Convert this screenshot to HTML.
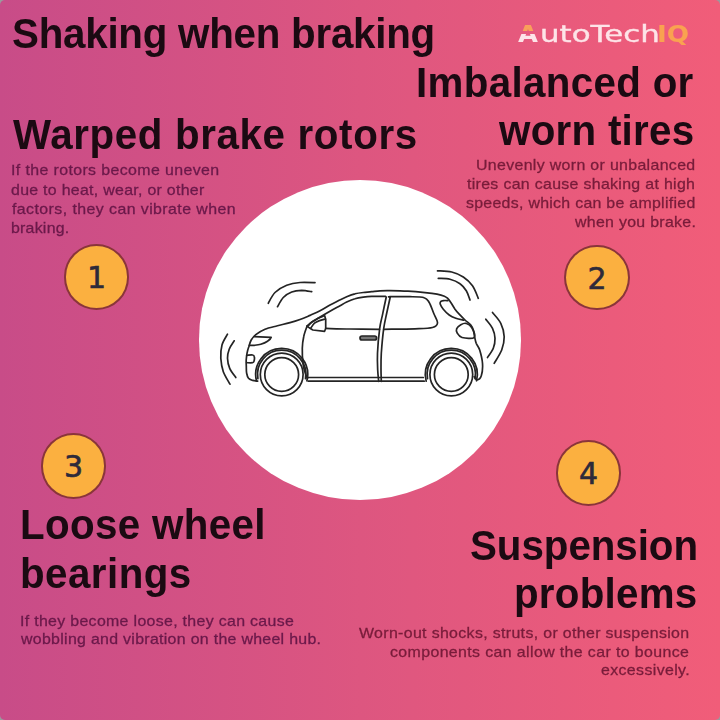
<!DOCTYPE html>
<html lang="en">
<head>
<meta charset="utf-8">
<title>Shaking when braking</title>
<style>
html,body{margin:0;padding:0;}
body{width:720px;height:720px;overflow:hidden;background:#9a9a9e;font-family:"Liberation Sans",sans-serif;}
.card{position:absolute;left:0;top:0;width:720px;height:720px;border-radius:5px;overflow:hidden;
  background:linear-gradient(90deg,#c84c88 0%,#dd5680 50%,#f15d79 100%);}
.disc{position:absolute;left:198.8px;top:180.4px;width:322.4px;height:319.2px;border-radius:50%;background:#fff;}
.car{position:absolute;left:0;top:0;}
h1,h2,p,section{margin:0;padding:0;font-size:inherit;font-weight:inherit;}
.t{position:absolute;white-space:nowrap;line-height:1;transform-origin:0 0;}
.h{font-weight:bold;font-size:42px;color:#1b0a12;}
.b{font-size:15px;color:#6a194a;-webkit-text-stroke:0.3px #6a194a;}
.b.r{color:#781c3a;-webkit-text-stroke:0.3px #781c3a;}
.num{position:absolute;width:65.4px;height:65.4px;border-radius:50%;background:#fbb040;border:2px solid rgba(118,32,58,0.85);box-sizing:border-box;
  font-family:"DejaVu Sans","Liberation Sans",sans-serif;font-size:30px;color:#2d2a3a;text-align:center;line-height:64.6px;-webkit-text-stroke:0.6px #2d2a3a;}
.logo{position:absolute;left:0;top:0;font-family:"DejaVu Sans","Liberation Sans",sans-serif;font-size:23px;line-height:1;color:#fde4e8;}
.logo span{position:absolute;top:22.5px;white-space:nowrap;transform-origin:0 0;}
.logo .la{left:518.3px;font-weight:bold;transform:scaleX(1.122);color:transparent;
  background:linear-gradient(180deg,#f9a05a 0,#f9a05a 8px,rgba(0,0,0,0) 8px,rgba(0,0,0,0) 11px,#fde4e8 11px,#fde4e8 23px);
  -webkit-background-clip:text;background-clip:text;}
.logo .lt{left:539.9px;transform:scaleX(1.3436);-webkit-text-stroke:0.35px #fde4e8;}
.logo .lq{left:657.4px;font-weight:bold;color:#f9a250;transform:scaleX(1.142);}
</style>
</head>
<body>
<div class="card">
  <div class="disc"></div>
<svg class="car" width="720" height="720" viewBox="0 0 720 720" fill="none" stroke="#242424" stroke-width="1.7" stroke-linecap="round" stroke-linejoin="round">
<path d="M257.7,381.2C256.9,381.1 254.2,380.9 252.7,380.4C251.2,379.9 249.5,379.5 248.5,378.3C247.5,377.1 247.0,375.1 246.6,373.0C246.2,370.9 246.4,368.2 246.3,366.0C246.2,363.8 246.1,362.1 246.2,360.0C246.4,357.9 246.6,355.5 247.0,353.3C247.4,351.1 248.0,348.9 248.8,346.7C249.5,344.5 250.1,342.0 251.2,340.0C252.4,338.0 253.5,336.4 255.8,334.6C258.1,332.8 261.4,330.7 265.0,329.2C268.6,327.7 273.3,326.9 277.5,325.8C281.7,324.7 286.2,323.7 290.0,322.6C293.8,321.6 296.7,320.7 300.0,319.5C303.3,318.3 306.7,316.8 310.0,315.4C313.3,313.9 316.7,312.5 320.0,310.8C323.3,309.1 326.9,306.7 330.0,305.0C333.1,303.3 335.5,302.2 338.3,300.8C341.1,299.4 343.9,297.9 346.7,296.7C349.5,295.5 352.2,294.4 355.0,293.8C357.8,293.1 360.5,292.8 363.3,292.5C366.1,292.2 368.9,292.0 371.7,291.7C374.5,291.4 376.9,291.0 380.0,290.8C383.1,290.6 385.3,290.5 390.0,290.6C394.7,290.7 402.2,290.9 408.0,291.2C413.8,291.5 420.2,292.1 425.0,292.6C429.8,293.1 433.8,293.6 437.0,294.2C440.2,294.8 442.6,295.5 444.4,296.2C446.2,296.9 446.8,297.6 447.9,298.6C449.0,299.7 449.6,300.7 450.8,302.5C452.0,304.3 453.6,307.2 455.0,309.2C456.4,311.1 457.5,312.4 459.2,314.2C460.9,316.0 463.1,318.2 465.0,320.0C466.9,321.8 469.4,323.3 470.8,325.0C472.2,326.7 472.7,328.1 473.3,330.0C473.9,331.9 474.1,334.5 474.6,336.7C475.1,338.9 475.4,341.1 476.2,343.3C477.1,345.5 478.6,346.7 479.7,350.0C480.7,353.3 482.2,359.0 482.5,363.3C482.8,367.6 482.2,373.1 481.3,375.8C480.4,378.6 478.2,379.9 477.0,380.0C475.8,380.1 474.6,377.2 474.2,376.7"/>
<path d="M306.9,326.0C307.8,325.3 310.1,323.3 312.0,322.0C313.9,320.7 315.0,320.1 318.0,318.3C321.0,316.5 326.6,313.2 330.0,311.2C333.4,309.3 335.5,308.2 338.3,306.7C341.1,305.2 343.9,303.4 346.7,302.1C349.5,300.8 352.2,299.6 355.0,298.8C357.8,297.9 360.5,297.5 363.3,297.1C366.1,296.7 368.0,296.5 371.7,296.4C375.4,296.3 383.2,296.3 385.5,296.3"/>
<path d="M325.7,328.4C329.8,328.5 341.0,328.9 350.0,329.0C359.0,329.1 374.6,329.2 379.5,329.3"/>
<path d="M386.2,297.2C385.6,299.9 383.9,308.1 382.8,313.3C381.8,318.5 380.6,321.7 379.7,328.3C378.8,335.0 377.8,346.4 377.5,353.3C377.2,360.3 377.5,365.3 377.7,370.0C377.9,374.7 378.5,379.4 378.7,381.3"/>
<path d="M390.2,297.2C389.6,299.9 387.8,308.1 386.7,313.3C385.6,318.6 384.6,322.0 383.7,328.7C382.8,335.3 381.8,346.4 381.3,353.3C380.9,360.2 381.0,365.3 381.0,370.0C381.0,374.7 381.3,379.4 381.3,381.3"/>
<path d="M390.2,297.2C390.1,297.1 386.7,296.8 390.0,296.7C393.3,296.6 404.3,296.5 410.0,296.7C415.7,296.8 421.0,296.7 424.2,297.7C427.4,298.6 427.6,299.9 429.2,302.5C430.8,305.1 432.3,309.9 433.7,313.3C435.1,316.8 437.7,320.6 437.5,323.0C437.3,325.4 436.2,326.5 432.5,327.5C428.8,328.5 423.1,328.5 415.0,328.8C406.9,329.1 388.9,329.2 383.7,329.3"/>
<path d="M307.0,326.3C306.4,328.1 304.4,333.0 303.7,336.7C302.9,340.3 302.4,343.9 302.3,348.3C302.2,352.8 302.5,359.2 303.0,363.3C303.5,367.5 304.6,370.8 305.3,373.3C306.1,375.9 307.1,377.8 307.5,378.7"/>
<path d="M307.5,377.5L423.3,377.5"/>
<path d="M308.3,381.2L424.2,381.2"/>
<path d="M307.5,326.7C308.2,325.9 309.9,323.5 311.7,322.1C313.5,320.7 316.1,319.4 318.3,318.3C320.5,317.2 323.6,316.1 324.6,315.6L325.7,319.6L325.7,328.5L324.6,331.3L312.9,330C312.4,329.7 310.9,328.8 310.0,328.2C309.1,327.6 307.9,326.9 307.5,326.7"/>
<path d="M311.0,327.8C311.6,327.0 313.1,324.4 314.5,323.2C315.9,322.0 317.7,321.3 319.5,320.6C321.3,319.9 324.4,319.3 325.4,319.0"/>
<path d="M254.4,336.6L271.2,337.3C271.0,338.2 269.3,340.1 267.5,341.2C265.7,342.4 263.0,343.5 260.8,344.2C258.6,344.9 256.4,345.1 254.5,345.3C252.6,345.5 250.2,345.4 249.4,345.4"/>
<path d="M246.7,355.3C247.6,355.3 251.2,354.8 252.5,355.0C253.8,355.2 254.1,355.6 254.3,356.7C254.6,357.7 254.3,360.3 254.0,361.3C253.7,362.3 253.7,362.4 252.5,362.7C251.3,362.9 247.6,362.7 246.7,362.7"/>
<path d="M447.9,300.6C447.2,300.6 444.7,300.4 443.5,300.6C442.3,300.8 441.2,301.1 440.6,301.7C440.1,302.3 439.8,302.8 440.2,304.0C440.6,305.2 441.8,307.4 443.3,309.2C444.8,311.0 447.1,313.5 449.2,315.0C451.3,316.5 453.4,317.4 455.8,318.3C458.2,319.2 462.5,319.9 463.8,320.2"/>
<path d="M456.7,328.7C457.3,327.3 459.3,325.6 460.8,324.7C462.4,323.8 464.0,322.9 465.8,323.3C467.6,323.8 470.3,325.1 471.7,327.5C473.1,329.9 475.8,335.8 474.2,337.5C472.6,339.2 464.8,338.2 462.0,337.5C459.2,336.8 458.1,334.5 457.2,333.0C456.3,331.5 456.1,330.1 456.7,328.7Z"/>
<path d="M256.6,381.2A26.0,26.0 0 1 1 306.9,380.8"/>
<path d="M257.9,378.7A24.2,24.2 0 1 1 305.5,378.7"/>
<path d="M426.2,381.2A26.0,26.0 0 1 1 476.5,380.8"/>
<path d="M427.5,378.7A24.2,24.2 0 1 1 475.1,378.7"/>
<circle cx="281.7" cy="374.5" r="21.4"/>
<circle cx="281.7" cy="374.5" r="16.9"/>
<circle cx="451.3" cy="374.5" r="21.4"/>
<circle cx="451.3" cy="374.5" r="16.9"/>
<path d="M362.0,336.0h12.6a2,2 0 0 1 0,4h-12.6a2,2 0 0 1 0,-4Z" fill="#777"/>
<path d="M268.3,303.3C269.4,301.5 271.9,295.5 275.0,292.5C278.1,289.5 282.5,287.0 286.7,285.3C290.8,283.7 295.3,282.9 300.0,282.5C304.7,282.1 312.5,282.6 315.0,282.7"/>
<path d="M277.5,306.7C278.5,305.1 281.0,299.9 283.3,297.5C285.7,295.1 288.6,293.2 291.7,292.0C294.7,290.8 298.3,290.4 301.7,290.3C305.0,290.3 310.0,291.4 311.7,291.7"/>
<path d="M227.5,334.2C226.6,336.0 223.1,341.0 222.0,345.0C220.9,349.0 220.6,353.9 220.8,358.3C221.1,362.8 221.8,367.4 223.3,371.7C224.9,376.0 228.9,382.1 230.0,384.2"/>
<path d="M234.2,340.8C233.3,342.2 230.3,346.2 229.2,349.2C228.1,352.1 227.4,355.1 227.5,358.3C227.6,361.5 228.3,365.1 229.7,368.3C231.1,371.5 234.8,376.0 235.8,377.5"/>
<path d="M437.5,270.8C439.9,271.0 447.4,271.0 451.7,272.0C456.0,273.0 459.9,274.7 463.3,277.0C466.8,279.3 470.0,282.3 472.5,285.8C475.0,289.4 477.4,296.2 478.3,298.3"/>
<path d="M438.3,278.3C440.3,278.5 446.4,278.3 450.0,279.2C453.6,280.1 457.3,281.7 460.0,283.7C462.7,285.6 464.7,288.1 466.3,290.8C468.0,293.6 469.4,298.5 470.0,300.0"/>
<path d="M492.5,312.5C493.9,314.3 498.9,319.3 500.8,323.3C502.8,327.4 504.0,332.2 504.2,336.7C504.3,341.1 503.3,345.6 501.7,350.0C500.0,354.4 495.4,361.1 494.2,363.3"/>
<path d="M485.8,319.2C486.9,320.7 491.0,325.1 492.5,328.3C494.0,331.5 494.9,335.0 495.0,338.3C495.1,341.7 494.6,345.1 493.3,348.3C492.1,351.5 488.5,356.0 487.5,357.5"/>
</svg>
  <div class="num" style="left:63.9px;top:244.4px">1</div>
  <div class="num" style="left:564.3px;top:244.7px">2</div>
  <div class="num" style="left:40.8px;top:433.3px">3</div>
  <div class="num" style="left:555.8px;top:440.3px">4</div>
  <div class="logo"><span class="la">A</span><span class="lt">utoTech</span><span class="lq">IQ</span></div>
<h1><span class="t h" id="h0" style="left:11.87px;top:13.00px;letter-spacing:-0.258px;transform:scaleX(0.96)">Shaking when braking</span></h1>
<section><h2><span class="t h" id="h1" style="left:12.50px;top:114.00px;letter-spacing:0.653px;transform:scaleX(0.96)">Warped brake rotors</span></h2><p><span class="t b" id="b1a" style="left:10.92px;top:162.00px;letter-spacing:0.366px;transform:scaleX(1.06)">If the rotors become uneven</span> <span class="t b" id="b1b" style="left:11.16px;top:182.00px;letter-spacing:0.277px;transform:scaleX(1.06)">due to heat, wear, or other</span> <span class="t b" id="b1c" style="left:11.99px;top:201.00px;letter-spacing:0.403px;transform:scaleX(1.06)">factors, they can vibrate when</span> <span class="t b" id="b1d" style="left:11.25px;top:220.00px;letter-spacing:0.221px;transform:scaleX(1.06)">braking.</span></p></section>
<section><h2><span class="t h" id="h2a" style="left:416.28px;top:62.00px;letter-spacing:0.341px;transform:scaleX(0.96)">Imbalanced or</span> <span class="t h" id="h2b" style="left:498.93px;top:110.00px;letter-spacing:0.292px;transform:scaleX(0.96)">worn tires</span></h2><p><span class="t b r" id="b2a" style="left:475.83px;top:157.00px;letter-spacing:0.319px;transform:scaleX(1.06)">Unevenly worn or unbalanced</span> <span class="t b r" id="b2b" style="left:467.09px;top:176.00px;letter-spacing:0.302px;transform:scaleX(1.06)">tires can cause shaking at high</span> <span class="t b r" id="b2c" style="left:465.78px;top:195.00px;letter-spacing:0.269px;transform:scaleX(1.06)">speeds, which can be amplified</span> <span class="t b r" id="b2d" style="left:574.61px;top:214.00px;letter-spacing:0.281px;transform:scaleX(1.06)">when you brake.</span></p></section>
<section><h2><span class="t h" id="h3a" style="left:20.38px;top:504.00px;letter-spacing:0.367px;transform:scaleX(0.96)">Loose wheel</span> <span class="t h" id="h3b" style="left:20.38px;top:553.00px;letter-spacing:0.476px;transform:scaleX(0.96)">bearings</span></h2><p><span class="t b" id="b3a" style="left:19.92px;top:613.00px;letter-spacing:0.303px;transform:scaleX(1.06)">If they become loose, they can cause</span> <span class="t b" id="b3b" style="left:21.41px;top:631.00px;letter-spacing:0.287px;transform:scaleX(1.06)">wobbling and vibration on the wheel hub.</span></p></section>
<section><h2><span class="t h" id="h4a" style="left:469.87px;top:525.00px;letter-spacing:-0.050px;transform:scaleX(0.96)">Suspension</span> <span class="t h" id="h4b" style="left:514.48px;top:573.00px;letter-spacing:0.249px;transform:scaleX(0.96)">problems</span></h2><p><span class="t b r" id="b4a" style="left:359.20px;top:625.00px;letter-spacing:0.327px;transform:scaleX(1.06)">Worn-out shocks, struts, or other suspension</span> <span class="t b r" id="b4b" style="left:390.16px;top:644.00px;letter-spacing:0.362px;transform:scaleX(1.06)">components can allow the car to bounce</span> <span class="t b r" id="b4c" style="left:601.06px;top:662.00px;letter-spacing:0.356px;transform:scaleX(1.06)">excessively.</span></p></section>
</div>
</body>
</html>
